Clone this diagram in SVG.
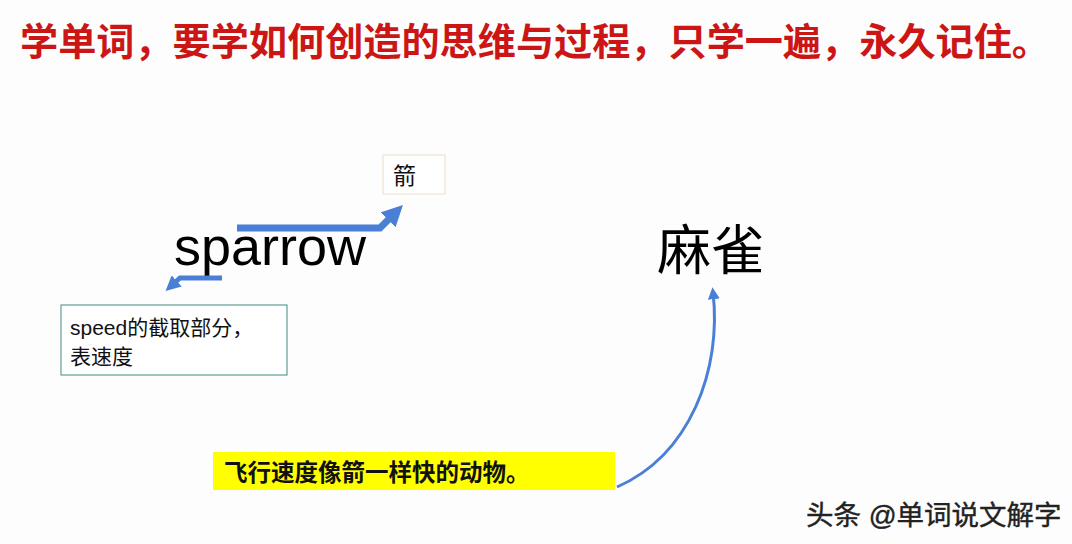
<svg xmlns="http://www.w3.org/2000/svg" width="1072" height="544" viewBox="0 0 1072 544">
<defs>
<style>
.cjk{font-family:"Liberation Sans","Noto Sans CJK SC",sans-serif;}
.title{font-size:38px;font-weight:bold;fill:#cc1616;}
.blue{fill:none;stroke:#4a7fd8;stroke-linejoin:miter;}
</style>
<marker id="ah" viewBox="0 0 10 10" refX="6" refY="5" markerWidth="3" markerHeight="3" orient="auto" markerUnits="strokeWidth">
<path d="M0,0 L10,5 L0,10 z" fill="#4a7fd8"/>
</marker>
<marker id="ah2" viewBox="0 0 10 10" refX="6" refY="5" markerWidth="4" markerHeight="4" orient="auto" markerUnits="strokeWidth">
<path d="M0,0 L10,5 L0,10 z" fill="#4a7fd8"/>
</marker>
</defs>
<rect width="1072" height="544" fill="#fdfdfd"/>
<text class="cjk title" x="20" y="55" textLength="1030" lengthAdjust="spacingAndGlyphs">学单词，要学如何创造的思维与过程，只学一遍，永久记住。</text>

<g id="node-arrow-word">
<rect x="383" y="155" width="62" height="39" fill="#ffffff" stroke="#f0e8dc" stroke-width="1.5"/>
<text class="cjk" x="393" y="184" font-size="23" fill="#111">箭</text>
</g>
<g id="node-sparrow">
<text x="174" y="265" font-family="Liberation Sans, sans-serif" font-size="54" fill="#000">sparrow</text>
</g>
<g id="node-speed">
<rect x="61" y="305" width="226" height="70" fill="#ffffff" stroke="#5e9e94" stroke-width="1.2"/>
<text class="cjk" x="70" y="335" font-size="21" fill="#111">speed的截取部分，</text>
<text class="cjk" x="70" y="364" font-size="21" fill="#111">表速度</text>
</g>
<g id="node-maque">
<text class="cjk" x="657" y="270" font-size="54" fill="#000">麻雀</text>
</g>
<g id="node-desc">
<rect x="213" y="452" width="402" height="38" fill="#ffff00"/>
<text class="cjk" x="224" y="481" font-size="23.5" font-weight="bold" fill="#111">飞行速度像箭一样快的动物。</text>
</g>

<g id="connectors">
<path class="blue" d="M237,228 L380,228 L397,211" stroke-width="7" marker-end="url(#ah)"/>
<path class="blue" d="M222,278 L180,278 L170,287" stroke-width="5" marker-end="url(#ah)"/>
<path class="blue" d="M617,487 C690,455 722,370 713,292" stroke-width="3" marker-end="url(#ah2)"/>
</g>

<text class="cjk" x="806" y="525" font-size="27.5" fill="#222" stroke="#222" stroke-width="0.4">头条 @单词说文解字</text>
</svg>
